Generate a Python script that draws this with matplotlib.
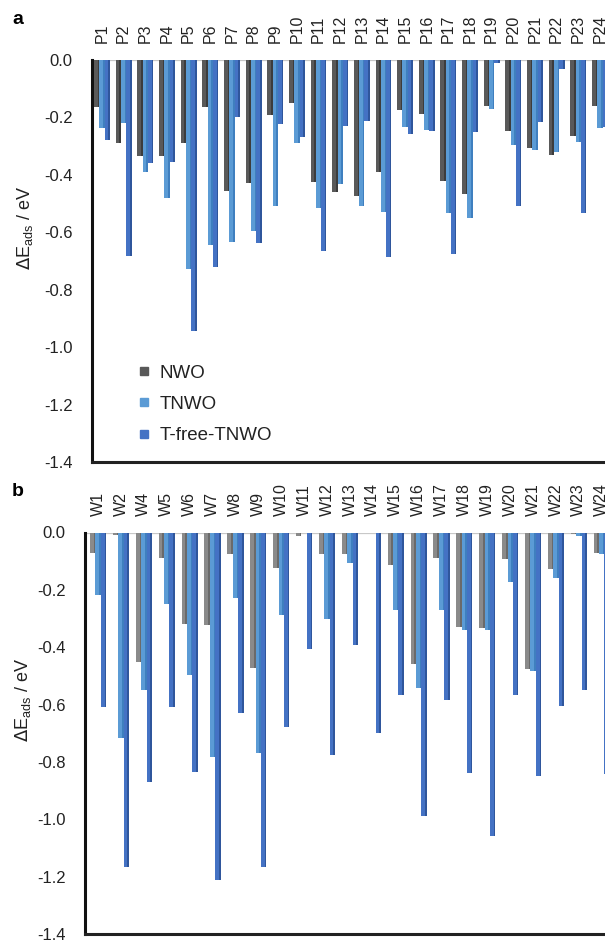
import matplotlib
matplotlib.use("Agg")
import matplotlib.pyplot as plt
from matplotlib.lines import Line2D
import numpy as np

plt.rcParams['font.family'] = ['Liberation Sans', 'DejaVu Sans']

# ---------------- data ----------------
series = ["NWO", "TNWO", "T-free-TNWO"]

p_labels = [f"P{i}" for i in range(1, 25)]
p_nwo = [-0.165, -0.288, -0.335, -0.335, -0.288, -0.162, -0.455, -0.430, -0.190, -0.150,
         -0.425, -0.460, -0.472, -0.390, -0.174, -0.188, -0.423, -0.466, -0.160, -0.247,
         -0.305, -0.332, -0.264, -0.160]
p_tnwo = [-0.236, -0.218, -0.390, -0.480, -0.728, -0.645, -0.635, -0.595, -0.507, -0.288,
          -0.516, -0.433, -0.510, -0.528, -0.232, -0.244, -0.533, -0.550, -0.170, -0.297,
          -0.314, -0.322, -0.287, -0.238]
p_tfree = [-0.277, -0.683, -0.360, -0.355, -0.945, -0.720, -0.197, -0.637, -0.224, -0.267,
           -0.665, -0.230, -0.211, -0.685, -0.256, -0.247, -0.675, -0.252, -0.010, -0.510,
           -0.217, -0.033, -0.534, -0.234]

w_labels = ["W1", "W2", "W4", "W5", "W6", "W7", "W8", "W9", "W10", "W11", "W12", "W13",
            "W14", "W15", "W16", "W17", "W18", "W19", "W20", "W21", "W22", "W23", "W24"]
w_nwo = [-0.072, -0.010, -0.453, -0.090, -0.320, -0.323, -0.076, -0.472, -0.125, -0.011,
         -0.075, -0.075, -0.003, -0.115, -0.457, -0.090, -0.331, -0.333, -0.092, -0.475,
         -0.127, -0.005, -0.072]
w_tnwo = [-0.218, -0.718, -0.548, -0.249, -0.496, -0.782, -0.229, -0.768, -0.289, -0.003,
          -0.301, -0.105, -0.003, -0.270, -0.542, -0.270, -0.340, -0.339, -0.171, -0.482,
          -0.157, -0.011, -0.076]
w_tfree = [-0.608, -1.166, -0.869, -0.609, -0.834, -1.212, -0.629, -1.166, -0.679, -0.406,
           -0.777, -0.394, -0.699, -0.565, -0.988, -0.583, -0.840, -1.058, -0.568, -0.849,
           -0.606, -0.550, -0.843]

yticks = [0.0, -0.2, -0.4, -0.6, -0.8, -1.0, -1.2, -1.4]

# ---------------- style ----------------
W, H = 605, 942
fig = plt.figure(figsize=(W / 100, H / 100), dpi=100)

front_a = ['#595959', '#5b9bd5', '#4472c4']
front_b = ['#8a8a8a', '#5b9bd5', '#4472c4']
side_a = ['#3c3c3c', '#3f7fbf', '#2f569c']
side_b = ['#6a6a6a', '#3f7fbf', '#2f569c']


def panel(rect, labels, data, fronts, sides, xlim, bw):
    ax = fig.add_axes(rect)
    x = np.arange(len(labels))
    for k, vals in enumerate(data):
        xs = x + (k - 1) * bw
        ax.bar(xs, vals, width=bw, color=fronts[k], edgecolor='none', zorder=3)
        ax.bar(xs + bw * 0.35, vals, width=bw * 0.3, color=sides[k],
               edgecolor='none', zorder=3)
    ax.set_xlim(*xlim)
    ax.set_ylim(-1.4, 0.0)
    ax.set_yticks(yticks)
    ax.set_yticklabels([f"{v:.1f}" for v in yticks], fontsize=12, color='#222222')
    ax.xaxis.tick_top()
    ax.set_xticks(x)
    ax.set_xticklabels(labels, rotation=90, fontsize=11.5, color='#222222')
    ax.tick_params(axis='x', length=0, pad=12)
    ax.tick_params(axis='y', length=0, pad=14)
    for s in ['top', 'right']:
        ax.spines[s].set_visible(False)
    ax.spines['left'].set_linewidth(2.2)
    ax.spines['left'].set_color('#111111')
    ax.spines['bottom'].set_linewidth(2.2)
    ax.spines['bottom'].set_color('#222222')
    ax.axhline(0, color='#c8c8c8', lw=1.6, zorder=1)
    ax.set_facecolor('none')
    return ax


ax_a = panel([92 / W, 1 - 462 / H, 1 - 92 / W, (462 - 60) / H], p_labels,
             [p_nwo, p_tnwo, p_tfree], front_a, side_a, (-0.46, 23.23), 0.245)
ax_b = panel([85 / W, 1 - 934 / H, 1 - 85 / W, (934 - 532.5) / H], w_labels,
             [w_nwo, w_tnwo, w_tfree], front_b, side_b, (-0.57, 22.14), 0.235)

# y labels
fig.text(25 / W, 1 - 228 / H, r"$\Delta$E$_{\mathregular{ads}}$ / eV", rotation=90,
         ha='center', va='center', fontsize=13, color='#222222')
fig.text(23 / W, 1 - 700 / H, r"$\Delta$E$_{\mathregular{ads}}$ / eV", rotation=90,
         ha='center', va='center', fontsize=13, color='#222222')

# panel letters
fig.text(12 / W, 1 - 20 / H, "a", fontsize=14, fontweight='bold', va='center')
fig.text(12 / W, 1 - 492 / H, "b", fontsize=14, fontweight='bold', va='center')

# legend
handles = [Line2D([], [], marker='s', ls='none', color=c, markersize=6) for c in front_a]
leg = ax_a.legend(handles, series, loc='upper left', frameon=False, fontsize=13.5,
                  bbox_to_anchor=(127 / W, 1 - 355 / H), bbox_transform=fig.transFigure,
                  handlelength=0.8, handletextpad=0.45, labelspacing=0.76, borderpad=0)
for t in leg.get_texts():
    t.set_color('#222222')

fig.savefig("out.png", dpi=100)
